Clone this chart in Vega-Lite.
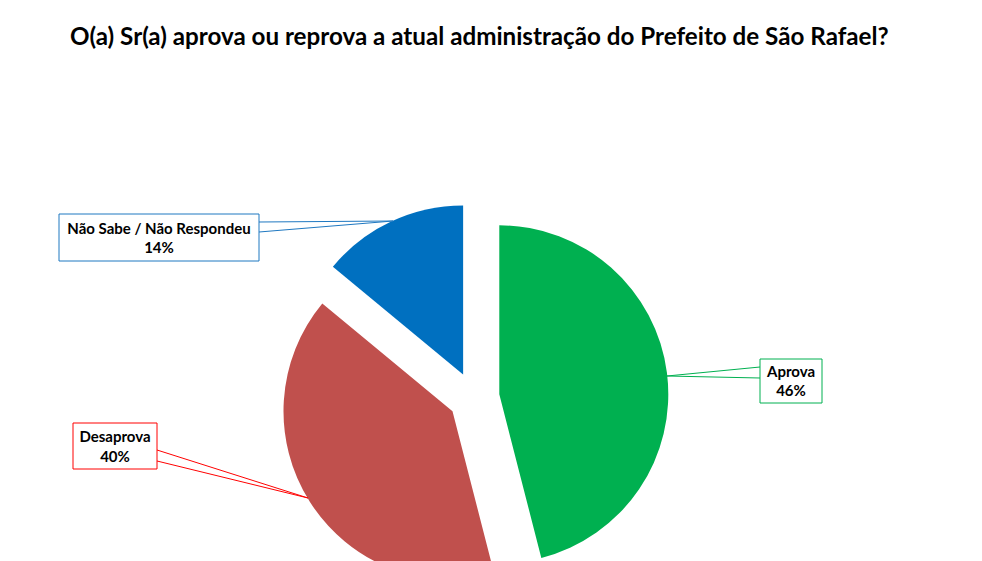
{
  "$schema": "https://vega.github.io/schema/vega-lite/v6.json",
  "description": "Exploded pie: approval of the São Rafael mayor's administration.",
  "width": 808,
  "height": 327,
  "autosize": "none",
  "padding": {"left": 70, "top": 234, "right": 104, "bottom": 0},
  "title": {
    "text": "O(a) Sr(a) aprova ou reprova a atual administração do Prefeito de São Rafael?",
    "anchor": "start",
    "frame": "group",
    "baseline": "alphabetic",
    "offset": 136,
    "font": "Lato",
    "fontSize": 24.2,
    "fontWeight": "bold",
    "color": "#000000"
  },
  "config": {
    "view": {"stroke": null},
    "text": {"font": "Lato", "fontSize": 15, "fontWeight": "bold", "color": "#000000", "align": "center", "baseline": "middle"}
  },
  "data": {
    "values": [
      {"answer": "Aprova", "share": 0.46},
      {"answer": "Desaprova", "share": 0.40},
      {"answer": "Não Sabe / Não Respondeu", "share": 0.14}
    ]
  },
  "transform": [
    {"stack": "share", "groupby": [], "sort": [{"field": "answer", "order": "ascending"}], "as": ["share_start", "share_end"]}
  ],
  "layer": [
    {
      "transform": [{"filter": "datum.answer === 'Aprova'"}],
      "layer": [
        {
          "mark": {"type": "arc", "radius": 169, "xOffset": 25.3, "yOffset": -3.2},
          "encoding": {
            "theta": {"field": "share_start", "type": "quantitative", "scale": {"domain": [0, 1]}},
            "theta2": {"field": "share_end"},
            "color": {"field": "answer", "type": "nominal", "legend": null,
              "scale": {"domain": ["Aprova", "Desaprova", "Não Sabe / Não Respondeu"], "range": ["#00B050", "#C0504D", "#0070C0"]}}
          }
        },
        {
          "mark": {"type": "point", "shape": "M286,-38.5H348V5.5H286Z M286,-30.5L193,-21.5L286,-19.5", "size": 4, "filled": false, "stroke": "#00B050", "strokeWidth": 1, "opacity": 1},
          "encoding": {}
        },
        {"mark": {"type": "text", "dx": 317, "dy": -25.5}, "encoding": {"text": {"field": "answer"}}},
        {"mark": {"type": "text", "dx": 317, "dy": -6.5}, "encoding": {"text": {"field": "share", "format": ".0%"}}}
      ]
    },
    {
      "transform": [{"filter": "datum.answer === 'Desaprova'"}],
      "layer": [
        {
          "mark": {"type": "arc", "radius": 169, "xOffset": -21.5, "yOffset": 13.7},
          "encoding": {
            "theta": {"field": "share_start", "type": "quantitative", "scale": {"domain": [0, 1]}},
            "theta2": {"field": "share_end"},
            "color": {"field": "answer", "type": "nominal", "legend": null}
          }
        },
        {
          "mark": {"type": "point", "shape": "M-401,25.5H-317V71.5H-401Z M-317,52.5L-166,100.5L-317,63.5", "size": 4, "filled": false, "stroke": "#FF0000", "strokeWidth": 1, "opacity": 1},
          "encoding": {}
        },
        {"mark": {"type": "text", "dx": -359, "dy": 39.5}, "encoding": {"text": {"field": "answer"}}},
        {"mark": {"type": "text", "dx": -359, "dy": 59.5}, "encoding": {"text": {"field": "share", "format": ".0%"}}}
      ]
    },
    {
      "transform": [{"filter": "datum.answer === 'Não Sabe / Não Respondeu'"}],
      "layer": [
        {
          "mark": {"type": "arc", "radius": 169, "xOffset": -10.9, "yOffset": -23.1},
          "encoding": {
            "theta": {"field": "share_start", "type": "quantitative", "scale": {"domain": [0, 1]}},
            "theta2": {"field": "share_end"},
            "color": {"field": "answer", "type": "nominal", "legend": null}
          }
        },
        {
          "mark": {"type": "point", "shape": "M-415,-183.5H-215V-136.5H-415Z M-215,-175.5L-81,-176.5L-215,-165.5", "size": 4, "filled": false, "stroke": "#1F78C1", "strokeWidth": 1, "opacity": 1},
          "encoding": {}
        },
        {"mark": {"type": "text", "dx": -315, "dy": -168.5}, "encoding": {"text": {"field": "answer"}}},
        {"mark": {"type": "text", "dx": -315, "dy": -149.5}, "encoding": {"text": {"field": "share", "format": ".0%"}}}
      ]
    }
  ]
}
